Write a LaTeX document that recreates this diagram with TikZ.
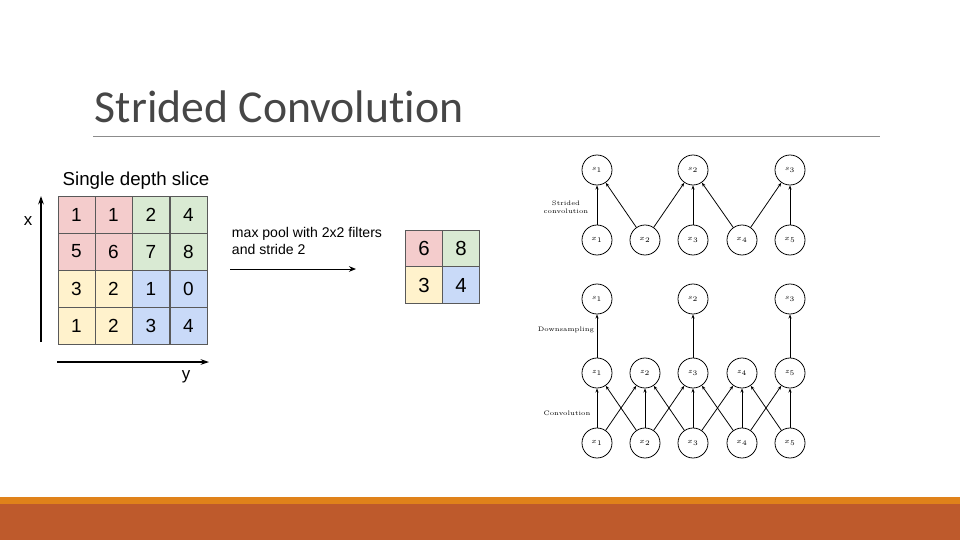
\documentclass[tikz,border=0pt]{standalone}
\definecolor{titlegray}{RGB}{70,70,70}
\definecolor{rulegray}{RGB}{140,140,140}
\definecolor{cellred}{RGB}{244,204,204}
\definecolor{cellgreen}{RGB}{217,234,211}
\definecolor{cellyellow}{RGB}{255,242,204}
\definecolor{cellblue}{RGB}{201,218,248}
\definecolor{bandorange}{RGB}{224,130,26}
\definecolor{bandbrown}{RGB}{190,90,44}
\usepackage{fontspec}
\newfontfamily\titlefont[Ligatures=NoCommon]{Carlito}
\newfontfamily\arialfont{Liberation Sans}
\usepackage{amsmath}
\usepackage{tikz}
\usetikzlibrary{arrows.meta,positioning}

\begin{document}
\begin{tikzpicture}[
    x=0.025cm, y=-0.025cm,
    cell/.style={draw, color=black!65, text=black, line width=0.6pt, minimum size=0.925cm, inner sep=0pt, font=\arialfont\fontsize{13.5}{15}\selectfont},
    unit/.style={circle, draw, line width=0.55pt, minimum size=0.75cm, inner sep=0pt, font=\fontsize{5.4}{6}\selectfont},
    lbl/.style={font=\fontsize{4.6}{5.4}\selectfont, align=center},
    >={Stealth[length=3pt,width=2.2pt]}
]
    \useasboundingbox (0,0) rectangle (960,540);
    % title and rule
    \node[font=\titlefont\fontsize{32.5}{38}\selectfont, color=titlegray, anchor=west] (title) at (90,107) {Strided Convolution};
    \coordinate (r1) at (93,136);
    \coordinate (r2) at (880,136);
    \draw[rulegray, line width=0.6pt] (r1) -- (r2);

    % bottom bands
    \fill[bandorange] (0,497) rectangle (960,504);
    \fill[bandbrown] (0,504) rectangle (960,540);

    % single depth slice
    \node[font=\arialfont\fontsize{13.3}{15}\selectfont] (slice) at (136,181) {Single depth slice};
    \node[cell, fill=cellred] (c11) at (76.5,214.5) {1};
    \node[cell, fill=cellred] (c12) at (113.5,214.5) {1};
    \node[cell, fill=cellgreen] (c13) at (151,214.5) {2};
    \node[cell, fill=cellgreen] (c14) at (188.5,214.5) {4};
    \node[cell, fill=cellred] (c21) at (76.5,251.5) {5};
    \node[cell, fill=cellred] (c22) at (113.5,251.5) {6};
    \node[cell, fill=cellgreen] (c23) at (151,251.5) {7};
    \node[cell, fill=cellgreen] (c24) at (188.5,251.5) {8};
    \node[cell, fill=cellyellow] (c31) at (76.5,288.5) {3};
    \node[cell, fill=cellyellow] (c32) at (113.5,288.5) {2};
    \node[cell, fill=cellblue] (c33) at (151,288.5) {1};
    \node[cell, fill=cellblue] (c34) at (188.5,288.5) {0};
    \node[cell, fill=cellyellow] (c41) at (76.5,325.5) {1};
    \node[cell, fill=cellyellow] (c42) at (113.5,325.5) {2};
    \node[cell, fill=cellblue] (c43) at (151,325.5) {3};
    \node[cell, fill=cellblue] (c44) at (188.5,325.5) {4};

    % axes
    \coordinate (xa) at (41,342);
    \coordinate (xb) at (41,196);
    \draw[line width=0.8pt, -{Stealth[length=6pt,width=4pt]}] (xa) -- (xb);
    \node[font=\arialfont\fontsize{12}{14}\selectfont] (xlab) at (28,221) {x};
    \coordinate (ya) at (57,362);
    \coordinate (yb) at (209,362);
    \draw[line width=0.8pt, -{Stealth[length=6pt,width=4pt]}] (ya) -- (yb);
    \node[font=\arialfont\fontsize{12}{14}\selectfont] (ylab) at (186,377) {y};

    % max pool
    \node[font=\arialfont\fontsize{10}{11.5}\selectfont, align=left, anchor=west] (pooltxt) at (227,241) {max pool with 2x2 filters\\and stride 2};
    \coordinate (pa) at (230,269);
    \coordinate (pb) at (356,269);
    \draw[line width=0.7pt, -{Stealth[length=5pt,width=4pt]}] (pa) -- (pb);
    \node[cell, fill=cellred, font=\arialfont\fontsize{14.5}{16}\selectfont] (p11) at (424,248.5) {6};
    \node[cell, fill=cellgreen, font=\arialfont\fontsize{14.5}{16}\selectfont] (p12) at (461,248.5) {8};
    \node[cell, fill=cellyellow, font=\arialfont\fontsize{14.5}{16}\selectfont] (p21) at (424,285) {3};
    \node[cell, fill=cellblue, font=\arialfont\fontsize{14.5}{16}\selectfont] (p22) at (461,285) {4};

    % strided convolution
    \node[unit] (a1) at (597,170) {$s_1$};
    \node[unit] (a2) at (693,170) {$s_2$};
    \node[unit] (a3) at (790,170) {$s_3$};
    \node[unit] (b1) at (597,240) {$x_1$};
    \node[unit] (b2) at (645,240) {$x_2$};
    \node[unit] (b3) at (693,240) {$x_3$};
    \node[unit] (b4) at (742,240) {$x_4$};
    \node[unit] (b5) at (790,240) {$x_5$};
    \draw[->, line width=0.55pt] (b1) -- (a1);
    \draw[->, line width=0.55pt] (b2) -- (a1);
    \draw[->, line width=0.55pt] (b2) -- (a2);
    \draw[->, line width=0.55pt] (b3) -- (a2);
    \draw[->, line width=0.55pt] (b4) -- (a2);
    \draw[->, line width=0.55pt] (b4) -- (a3);
    \draw[->, line width=0.55pt] (b5) -- (a3);
    \node[lbl] (strlbl) at (566,207) {Strided\\convolution};

    % convolution then downsampling
    \node[unit] (s1) at (597,299) {$s_1$};
    \node[unit] (s2) at (693,299) {$s_2$};
    \node[unit] (s3) at (790,299) {$s_3$};
    \node[unit] (z1) at (597,373) {$z_1$};
    \node[unit] (z2) at (645,373) {$z_2$};
    \node[unit] (z3) at (693,373) {$z_3$};
    \node[unit] (z4) at (742,373) {$z_4$};
    \node[unit] (z5) at (790,373) {$z_5$};
    \node[unit] (x1) at (597,443) {$x_1$};
    \node[unit] (x2) at (645,443) {$x_2$};
    \node[unit] (x3) at (693,443) {$x_3$};
    \node[unit] (x4) at (742,443) {$x_4$};
    \node[unit] (x5) at (790,443) {$x_5$};
    \draw[->, line width=0.55pt] (z1) -- (s1);
    \draw[->, line width=0.55pt] (z3) -- (s2);
    \draw[->, line width=0.55pt] (z5) -- (s3);
    \draw[->, line width=0.55pt] (x1) -- (z1);
    \draw[->, line width=0.55pt] (x1) -- (z2);
    \draw[->, line width=0.55pt] (x2) -- (z1);
    \draw[->, line width=0.55pt] (x2) -- (z2);
    \draw[->, line width=0.55pt] (x2) -- (z3);
    \draw[->, line width=0.55pt] (x3) -- (z2);
    \draw[->, line width=0.55pt] (x3) -- (z3);
    \draw[->, line width=0.55pt] (x3) -- (z4);
    \draw[->, line width=0.55pt] (x4) -- (z3);
    \draw[->, line width=0.55pt] (x4) -- (z4);
    \draw[->, line width=0.55pt] (x4) -- (z5);
    \draw[->, line width=0.55pt] (x5) -- (z4);
    \draw[->, line width=0.55pt] (x5) -- (z5);
    \node[lbl] (downlbl) at (566,330) {Downsampling};
    \node[lbl] (convlbl) at (567,413) {Convolution};
\end{tikzpicture}
\end{document}
